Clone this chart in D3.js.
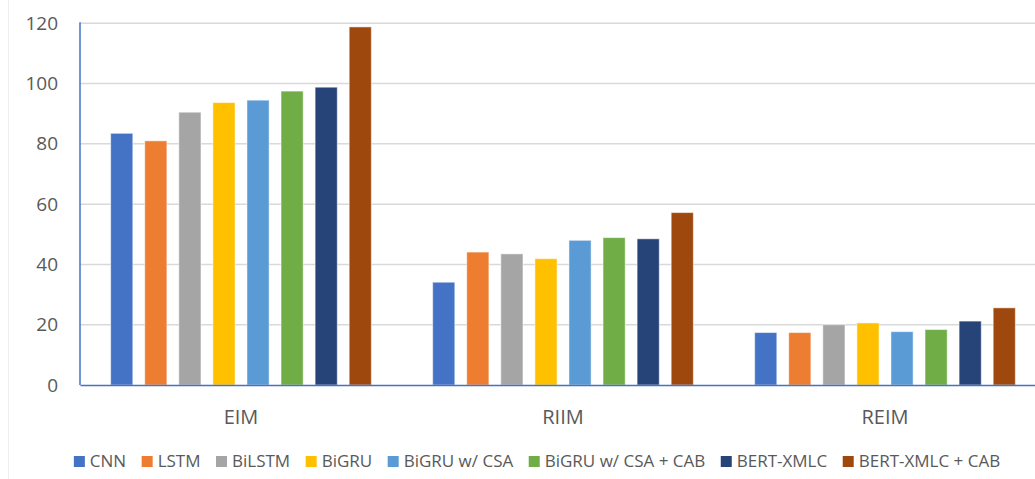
<!DOCTYPE html>
<html><head><meta charset="utf-8">
<script src="https://cdn.jsdelivr.net/npm/d3@7"></script>
<style>body{margin:0;background:#fff;} svg{display:block;}</style>
</head><body>
<svg id="c" width="1035" height="479"></svg>
<script>
const categories = ["EIM", "RIIM", "REIM"];
const seriesNames = ["CNN", "LSTM", "BiLSTM", "BiGRU", "BiGRU w/ CSA", "BiGRU w/ CSA + CAB", "BERT-XMLC", "BERT-XMLC + CAB"];
const CNN = [83.5, 34.1, 17.4];
const LSTM = [81.0, 44.1, 17.4];
const BiLSTM = [90.5, 43.5, 20.0];
const BiGRU = [93.7, 41.9, 20.6];
const BiGRU_CSA = [94.5, 48.0, 17.7];
const BiGRU_CSA_CAB = [97.5, 48.9, 18.4];
const BERT_XMLC = [98.8, 48.5, 21.2];
const BERT_XMLC_CAB = [118.8, 57.2, 25.6];
const yTicks = [0, 20, 40, 60, 80, 100, 120];
const colors = ["#4472C4", "#ED7D31", "#A5A5A5", "#FFC000", "#5B9BD5", "#70AD47", "#264478", "#9E480E"];

const values = [CNN, LSTM, BiLSTM, BiGRU, BiGRU_CSA, BiGRU_CSA_CAB, BERT_XMLC, BERT_XMLC_CAB];
const font = "'Open Sans', sans-serif";
const svg = d3.select("#c");

const mLeft = 80, mRight = 1046, mTop = 23.3, mBottom = 385;
const y = d3.scaleLinear().domain([0, 120]).range([mBottom, mTop]);
const x0 = d3.scaleBand().domain(categories).range([mLeft, mRight]).padding(0);
const x1 = d3.scaleBand().domain(seriesNames).range([0, x0.bandwidth()]).paddingInner(0.35).paddingOuter(0.9);

// faint border line at left
svg.append("line").attr("x1", 8.5).attr("x2", 8.5).attr("y1", 0).attr("y2", 479)
  .attr("stroke", "#efefef").attr("stroke-width", 1);

// gridlines
svg.append("g").selectAll("line").data(yTicks.filter(d => d > 0)).join("line")
  .attr("x1", mLeft).attr("x2", mRight)
  .attr("y1", d => y(d)).attr("y2", d => y(d))
  .attr("stroke", "#d9d9d9").attr("stroke-width", 1.5);

// y tick labels
const yAxis = d3.axisLeft(y).tickValues(yTicks).tickSize(0).tickPadding(22);
const ya = svg.append("g").attr("transform", `translate(${mLeft},0)`).call(yAxis);
ya.select(".domain").remove();
ya.selectAll("text").attr("font-family", font).attr("font-size", 19).attr("fill", "#595959");

// bars
const groups = svg.append("g").selectAll("g").data(categories).join("g")
  .attr("transform", c => `translate(${x0(c)},0)`);
groups.selectAll("rect").data((c, ci) => seriesNames.map((s, si) => ({s, si, v: values[si][ci]}))).join("rect")
  .attr("x", d => x1(d.s))
  .attr("width", x1.bandwidth())
  .attr("y", d => y(d.v))
  .attr("height", d => y(0) - y(d.v))
  .attr("fill", d => colors[d.si])
  .attr("stroke", "#ffffff").attr("stroke-opacity", 0.5).attr("stroke-width", 1);

// axes lines
svg.append("line").attr("x1", mLeft).attr("x2", mLeft).attr("y1", mTop - 1).attr("y2", mBottom)
  .attr("stroke", "#4472C4").attr("stroke-width", 1.5);
const xAxis = d3.axisBottom(x0).tickSize(0).tickPadding(39);
const xa = svg.append("g").attr("transform", `translate(0,${mBottom})`).call(xAxis);
xa.select(".domain").attr("stroke", "#4472C4").attr("stroke-width", 1.5);
xa.selectAll("text").attr("font-family", font).attr("font-size", 20).attr("fill", "#595959")
  .attr("dy", null);

// legend
const lg = svg.append("g");
const items = lg.selectAll("g").data(seriesNames).join("g");
items.append("rect").attr("width", 11).attr("height", 11).attr("y", -5.5)
  .attr("fill", (d, i) => colors[i]);
items.append("text").text(d => d).attr("x", 16).attr("dy", "0.35em")
  .attr("font-family", font).attr("font-size", 17).attr("fill", "#595959");
let xpos = 0;
const gap = 15.5;
items.each(function() {
  const g = d3.select(this);
  g.attr("transform", `translate(${xpos},0)`);
  xpos += 16 + g.select("text").node().getComputedTextLength() + gap;
});
const total = xpos - gap;
lg.attr("transform", `translate(${537 - total / 2},461.5)`);
</script>
</body></html>
